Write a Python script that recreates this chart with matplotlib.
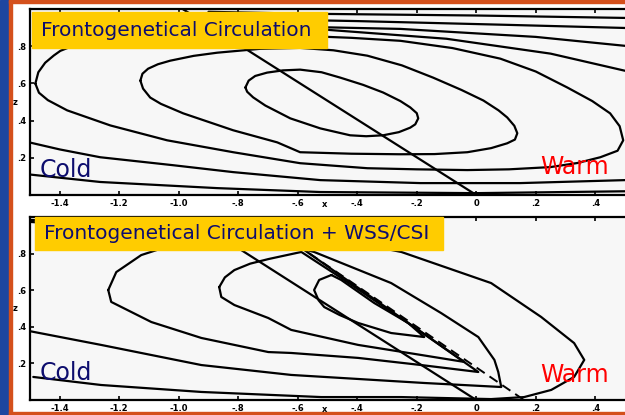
import numpy as np
import matplotlib
matplotlib.use("Agg")
from matplotlib import pyplot as plt
from matplotlib.patches import Rectangle

# ---- data (x, z) ----
# top panel: frontogenetical circulation
top_c1 = [(-0.776, 0.578), (-0.765, 0.615), (-0.743, 0.640), (-0.703, 0.658), (-0.650, 0.670),
          (-0.592, 0.674), (-0.520, 0.660), (-0.457, 0.631), (-0.380, 0.592), (-0.313, 0.551),
          (-0.255, 0.505), (-0.222, 0.471), (-0.200, 0.440), (-0.195, 0.412), (-0.205, 0.380),
          (-0.222, 0.362), (-0.260, 0.338), (-0.313, 0.321), (-0.370, 0.316), (-0.424, 0.321),
          (-0.524, 0.358), (-0.625, 0.412), (-0.709, 0.481), (-0.750, 0.525), (-0.770, 0.555),
          (-0.776, 0.578)]
top_c2 = [(-1.129, 0.615), (-1.122, 0.652), (-1.103, 0.679), (-1.070, 0.703), (-1.029, 0.722),
          (-0.950, 0.748), (-0.871, 0.765), (-0.726, 0.786), (-0.592, 0.791), (-0.480, 0.778),
          (-0.366, 0.749), (-0.250, 0.697), (-0.145, 0.631), (-0.050, 0.565), (0.024, 0.508),
          (0.075, 0.455), (0.104, 0.417), (0.128, 0.372), (0.138, 0.332), (0.130, 0.298),
          (0.104, 0.278), (0.050, 0.252), (-0.030, 0.230), (-0.140, 0.220), (-0.255, 0.219),
          (-0.420, 0.222), (-0.592, 0.230), (-0.669, 0.283), (-0.817, 0.348), (-0.985, 0.439),
          (-1.060, 0.490), (-1.096, 0.524), (-1.120, 0.572), (-1.129, 0.615)]
top_c3 = [(-1.482, 0.599), (-1.472, 0.660), (-1.449, 0.711), (-1.420, 0.750), (-1.398, 0.775),
          (-1.340, 0.812), (-1.264, 0.840), (-1.100, 0.868), (-0.928, 0.882), (-0.760, 0.874),
          (-0.592, 0.856), (-0.420, 0.845), (-0.255, 0.829), (-0.080, 0.790), (0.081, 0.733),
          (0.200, 0.664), (0.306, 0.578), (0.390, 0.505), (0.450, 0.439), (0.482, 0.370),
          (0.494, 0.294), (0.475, 0.238), (0.417, 0.203), (0.340, 0.172), (0.249, 0.150),
          (0.110, 0.138), (-0.030, 0.134), (-0.200, 0.138), (-0.366, 0.144), (-0.592, 0.171),
          (-0.817, 0.230), (-1.039, 0.294), (-1.230, 0.374), (-1.375, 0.455), (-1.440, 0.510),
          (-1.470, 0.550), (-1.482, 0.599)]
top_low1 = [(-1.50, 0.282), (-1.400, 0.245), (-1.264, 0.203), (-1.018, 0.160), (-0.817, 0.123),
            (-0.524, 0.080), (-0.188, 0.064), (0.148, 0.064), (0.50, 0.080)]
top_low2 = [(-1.50, 0.110), (-1.264, 0.070), (-0.871, 0.037), (-0.524, 0.016), (0.0, 0.010),
            (0.50, 0.020)]
top_up1 = [(-0.90, 0.985), (-0.592, 0.975), (0.0, 0.965), (0.50, 0.952)]
top_up2 = [(-0.90, 0.950), (-0.40, 0.935), (0.10, 0.915), (0.50, 0.898)]
top_up3 = [(-0.90, 0.915), (-0.255, 0.893), (0.20, 0.850), (0.50, 0.802)]
top_up4 = [(-0.60, 0.900), (-0.10, 0.840), (0.25, 0.760), (0.50, 0.668)]
top_front = [(-0.987, 1.0), (0.0, 0.0)]

# bottom panel: frontogenetical circulation + WSS/CSI
bot_b1 = [(-0.487, 0.683), (-0.528, 0.656), (-0.545, 0.601), (-0.530, 0.545), (-0.511, 0.508),
          (-0.460, 0.465), (-0.397, 0.421), (-0.286, 0.366), (-0.175, 0.344), (-0.229, 0.421),
          (-0.343, 0.530), (-0.454, 0.656), (-0.487, 0.683)]
bot_b2 = [(-0.864, 0.617), (-0.845, 0.670), (-0.813, 0.710), (-0.760, 0.745), (-0.699, 0.770),
          (-0.588, 0.809), (-0.454, 0.667), (-0.319, 0.519), (-0.185, 0.372), (-0.040, 0.208),
          (-0.185, 0.246), (-0.397, 0.301), (-0.622, 0.383), (-0.699, 0.448), (-0.813, 0.519),
          (-0.857, 0.563), (-0.864, 0.617)]
bot_b3 = [(-1.237, 0.601), (-1.210, 0.699), (-1.126, 0.792), (-0.992, 0.863), (-0.824, 0.896),
          (-0.689, 0.874), (-0.588, 0.831), (-0.454, 0.678), (-0.252, 0.448), (-0.118, 0.295),
          (0.007, 0.153), (-0.185, 0.191), (-0.397, 0.230), (-0.622, 0.257), (-0.699, 0.262),
          (-0.924, 0.339), (-1.092, 0.426), (-1.227, 0.536), (-1.237, 0.601)]
bot_open1 = [(-1.489, 0.126), (-1.261, 0.082), (-0.924, 0.044), (-0.521, 0.016), (-0.252, 0.016),
             (0.050, 0.005), (0.161, 0.016), (0.252, 0.055), (0.329, 0.126), (0.363, 0.219),
             (0.329, 0.311), (0.218, 0.454), (0.050, 0.639), (-0.252, 0.809), (-0.487, 0.885),
             (-0.756, 0.934), (-1.092, 0.962), (-1.50, 0.984)]
bot_open2 = [(-1.50, 0.376), (-1.261, 0.301), (-0.924, 0.191), (-0.622, 0.137), (-0.175, 0.093),
             (0.084, 0.071), (0.074, 0.153), (0.061, 0.219), (0.007, 0.344), (-0.118, 0.475),
             (-0.286, 0.639), (-0.545, 0.809), (-0.723, 0.885), (-0.992, 0.918), (-1.261, 0.951),
             (-1.50, 0.973)]
bot_front = [(-0.964, 1.0), (0.0, 0.0)]
bot_dash = [(-0.56, 0.80), (0.175, -0.016)]

xticks = [-1.4, -1.2, -1.0, -0.8, -0.6, -0.4, -0.2, 0.0, 0.2, 0.4]
xticklabels = ["-1.4", "-1.2", "-1.0", "-.8", "-.6", "-.4", "-.2", "0", ".2", ".4"]
yticks = [0.2, 0.4, 0.6, 0.8]
yticklabels = [".2", ".4", ".6", ".8"]

titles = ["Frontogenetical Circulation", "Frontogenetical Circulation + WSS/CSI"]

W, H = 625, 415
fig = plt.figure(figsize=(W / 100, H / 100), dpi=100)
fig.patch.set_facecolor("white")

# slide decoration
fig.add_artist(Rectangle((0, 0), 9 / W, 1, transform=fig.transFigure, color="#1d46a0", zorder=0))
fig.add_artist(Rectangle((9 / W, 0), 3 / W, 1, transform=fig.transFigure, color="#d4501c", zorder=0))
fig.add_artist(Rectangle((9 / W, 1 - 3 / H), 1, 3 / H, transform=fig.transFigure, color="#d4501c", zorder=0))
fig.add_artist(Rectangle((9 / W, 0), 1, 3 / H, transform=fig.transFigure, color="#d4501c", zorder=0))


def px_axes(x0, y_top, y_bot):
    return fig.add_axes([x0 / W, 1 - y_bot / H, (W - x0) / W, (y_bot - y_top) / H])


def setup(ax):
    ax.set_xlim(-1.5, 0.5)
    ax.set_ylim(0, 1)
    ax.set_facecolor("#f7f7f7")
    ax.spines["right"].set_visible(False)
    for s in ["left", "bottom", "top"]:
        ax.spines[s].set_linewidth(1.6)
    ax.set_xticks(xticks)
    ax.set_xticklabels(xticklabels, fontsize=6, fontweight="bold")
    ax.set_yticks(yticks)
    ax.set_yticklabels(yticklabels, fontsize=6, fontweight="bold")
    ax.tick_params(direction="in", length=3, width=1.2, top=True, pad=3)
    ax.text(-1.55, 0.5, "z", fontsize=6, fontweight="bold", ha="center", va="center")
    ax.text(-0.51, -0.05, "x", fontsize=6, fontweight="bold", ha="center", va="center")


def curve(ax, pts, lw=1.6, **kw):
    pts = np.array(pts)
    ax.plot(pts[:, 0], pts[:, 1], color="black", lw=lw, solid_joinstyle="round",
            solid_capstyle="round", clip_on=True, **kw)


ax1 = px_axes(30, 9, 195)
setup(ax1)
for c in [top_c1, top_c2, top_c3, top_low1, top_low2, top_up1, top_up2, top_up3, top_up4, top_front]:
    curve(ax1, c)

ax2 = px_axes(30, 217, 400)
setup(ax2)
for c in [bot_b1, bot_b2, bot_b3, bot_open1, bot_open2, bot_front]:
    curve(ax2, c)
curve(ax2, bot_dash, lw=1.4, ls=(0, (5, 3)))

navy = "#0d0d6e"
# label boxes
for (x0, y0, x1, y1), t in zip([(32, 12, 327, 48), (35, 217, 443, 250)], titles):
    fig.add_artist(Rectangle((x0 / W, 1 - y1 / H), (x1 - x0) / W, (y1 - y0) / H,
                             transform=fig.transFigure, color="#ffcc00", zorder=5))
    fig.text((x0 + 9) / W, 1 - (y0 + y1) / 2 / H, t, fontsize=14.5, color=navy,
             ha="left", va="center", zorder=6)

for ytxt_c, ytxt_w in [(170, 167), (373, 375)]:
    fig.text(40 / W, 1 - ytxt_c / H, "Cold", fontsize=17, color=navy, ha="left", va="center", zorder=6)
    fig.text(540 / W, 1 - ytxt_w / H, "Warm", fontsize=17, color="#ff0000", ha="left", va="center", zorder=6)

fig.savefig("out.png", dpi=100)
